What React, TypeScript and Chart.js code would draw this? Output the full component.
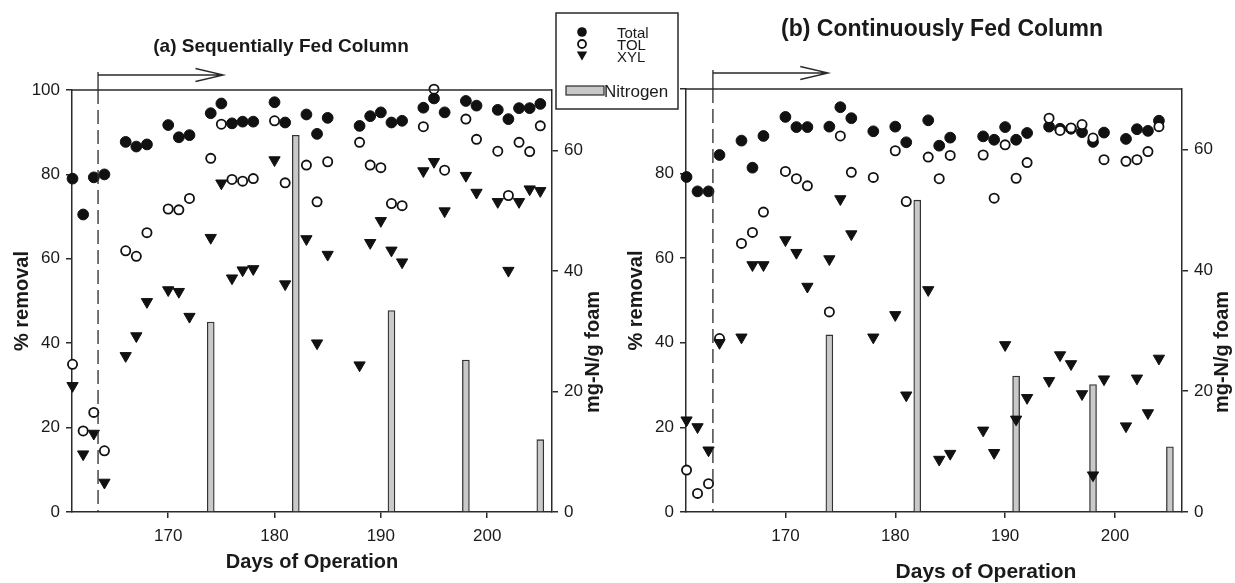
import React, { useEffect, useRef } from 'react';
import { Chart, registerables } from 'chart.js';

Chart.register(...registerables);

const W = 1235;
const H = 583;
const FONT = "'Liberation Sans', Arial, Helvetica, sans-serif";
const TEXT = '#1a1a1a';
const AXIS = '#2a2a2a';

// ---------- shared axis values ----------
const xTicks = [170, 180, 190, 200];
const yTicks = [0, 20, 40, 60, 80, 100];
const y2Ticks = [0, 20, 40, 60];
const X_MIN = 160.95;
const X_MAX = 206.1;
const DASH_DAY = 163.4;

// ---------- (a) Sequentially Fed Column ----------
const seqDays = [161, 162, 163, 164, 166, 167, 168, 170, 171, 172, 174, 175, 176, 177, 178, 180, 181, 183, 184, 185, 188, 189, 190, 191, 192, 194, 195, 196, 198, 199, 201, 202, 203, 204, 205];
const seqTotal = [79, 70.5, 79.3, 80, 87.7, 86.6, 87.1, 91.7, 88.8, 89.3, 94.5, 96.8, 92.1, 92.5, 92.5, 97.1, 92.3, 94.2, 89.6, 93.4, 91.5, 93.8, 94.7, 92.3, 92.7, 95.8, 98.0, 94.7, 97.4, 96.3, 95.3, 93.1, 95.7, 95.7, 96.7];
const seqTOL = [35.0, 19.2, 23.6, 14.5, 61.9, 60.6, 66.2, 71.8, 71.6, 74.3, 83.8, 91.9, 78.8, 78.4, 79.0, 92.7, 78.0, 82.2, 73.5, 83.0, 87.6, 82.2, 81.6, 73.1, 72.6, 91.3, 100.2, 81.0, 93.1, 88.3, 85.5, 75.0, 87.6, 85.4, 91.5];
const seqXYL = [29.9, 13.7, 18.6, 7.0, 37.0, 41.7, 49.8, 52.6, 52.2, 46.3, 65.0, 77.9, 55.4, 57.3, 57.6, 83.4, 54.0, 64.7, 40.0, 61.0, 34.8, 63.8, 69.0, 62.0, 59.2, 80.8, 83.0, 71.3, 79.7, 75.7, 73.5, 57.2, 73.5, 76.5, 76.1];
const seqNDays = [174, 182, 191, 198, 205];
const seqN = [31.5, 62.5, 33.4, 25.2, 12.0];

// ---------- (b) Continuously Fed Column ----------
const conDays = [161, 162, 163, 164, 166, 167, 168, 170, 171, 172, 174, 175, 176, 178, 180, 181, 183, 184, 185, 188, 189, 190, 191, 192, 194, 195, 196, 197, 198, 199, 201, 202, 203, 204];
const conTotal = [79.2, 75.8, 75.8, 84.4, 87.8, 81.4, 88.9, 93.4, 91.0, 91.0, 91.1, 95.7, 93.1, 90.0, 91.1, 87.4, 92.6, 86.6, 88.5, 88.8, 88.0, 91.0, 88.0, 89.6, 91.1, 90.6, 90.6, 89.8, 87.5, 89.7, 88.2, 90.5, 90.1, 92.5];
const conTOL = [9.9, 4.4, 6.7, 41.0, 63.5, 66.1, 70.9, 80.5, 78.8, 77.1, 47.3, 88.9, 80.3, 79.1, 85.4, 73.4, 83.9, 78.8, 84.3, 84.4, 74.2, 86.8, 78.9, 82.6, 93.1, 90.2, 90.8, 91.6, 88.4, 83.3, 82.9, 83.3, 85.2, 91.1];
const conXYL = [21.7, 20.1, 14.6, 40.0, 41.3, 58.4, 58.4, 64.3, 61.3, 53.3, 59.8, 74.0, 65.7, 41.3, 46.6, 27.6, 52.5, 12.4, 13.8, 19.3, 14.0, 39.5, 21.9, 27.0, 31.0, 37.1, 35.0, 27.9, 8.7, 31.4, 20.3, 31.6, 23.4, 36.3];
const conNDays = [174, 182, 191, 198, 205];
const conN = [29.3, 51.6, 22.5, 21.1, 10.8];

const legendLabels = ['Total', 'TOL', 'XYL', 'Nitrogen'];

type PanelCfg = {
  title: string;
  titleX: number;
  titleY: number;
  titleSize: number;
  days: number[];
  total: number[];
  tol: number[];
  xyl: number[];
  nDays: number[];
  n: number[];
  pad: { left: number; right: number; top: number; bottom: number };
  xHeight: number;
  xTitleCustom: null | { x: number; y: number; size: number };
  hideTop: boolean;
  arrowEnd: number;
  arrowRise: number;
  y2TitleX: number;
  legend: boolean;
};

const leftCfg: PanelCfg = {
  title: '(a) Sequentially Fed Column',
  titleX: 281, titleY: 47, titleSize: 19,
  days: seqDays, total: seqTotal, tol: seqTOL, xyl: seqXYL, nDays: seqNDays, n: seqN,
  pad: { left: 0, right: W - 552 - 40, top: 90, bottom: 9 },
  xHeight: 583 - 512 - 9,
  xTitleCustom: null,
  hideTop: false,
  arrowEnd: 175.2,
  arrowRise: 15,
  y2TitleX: 593,
  legend: false,
};

const rightCfg: PanelCfg = {
  title: '(b) Continuously Fed Column',
  titleX: 942, titleY: 30, titleSize: 23,
  days: conDays, total: conTotal, tol: conTOL, xyl: conXYL, nDays: conNDays, n: conN,
  pad: { left: 686 - 72, right: W - 1182 - 40, top: 89, bottom: 0 },
  xHeight: 583 - 512,
  xTitleCustom: { x: 986, y: 572, size: 21 },
  hideTop: true,
  arrowEnd: 173.9,
  arrowRise: 16,
  y2TitleX: 1222,
  legend: true,
};

function drawDownTriangle(ctx: CanvasRenderingContext2D, x: number, y: number, r: number) {
  ctx.beginPath();
  ctx.moveTo(x - r * 0.866, y - r * 0.5);
  ctx.lineTo(x + r * 0.866, y - r * 0.5);
  ctx.lineTo(x, y + r);
  ctx.closePath();
  ctx.fill();
}

function makeDecor(cfg: PanelCfg) {
  return {
    id: 'panelDecor',
    afterDraw(chart: any) {
      const { ctx, chartArea: a, scales } = chart;
      ctx.save();
      ctx.strokeStyle = AXIS;
      ctx.lineWidth = 1.5;
      // top frame line
      ctx.beginPath();
      ctx.moveTo(a.left, a.top);
      ctx.lineTo(a.right, a.top);
      ctx.stroke();
      // dashed start line
      const xd = scales.x.getPixelForValue(DASH_DAY);
      ctx.lineWidth = 1.3;
      ctx.setLineDash([14, 6]);
      ctx.beginPath();
      ctx.moveTo(xd, a.top);
      ctx.lineTo(xd, a.bottom);
      ctx.stroke();
      ctx.setLineDash([]);
      // arrow
      const xe = scales.x.getPixelForValue(cfg.arrowEnd);
      const ya = a.top - cfg.arrowRise;
      ctx.lineWidth = 1.3;
      ctx.beginPath();
      ctx.moveTo(xd, a.top);
      ctx.lineTo(xd, ya - 3);
      ctx.moveTo(xd, ya);
      ctx.lineTo(xe, ya);
      ctx.moveTo(xe - 28, ya - 6.5);
      ctx.lineTo(xe, ya);
      ctx.lineTo(xe - 28, ya + 6.5);
      ctx.stroke();
      // panel title
      ctx.fillStyle = TEXT;
      ctx.textAlign = 'center';
      ctx.textBaseline = 'middle';
      ctx.font = `bold ${cfg.titleSize}px ${FONT}`;
      ctx.fillText(cfg.title, cfg.titleX, cfg.titleY);
      // custom x title (off-centre in panel b)
      if (cfg.xTitleCustom) {
        ctx.font = `bold ${cfg.xTitleCustom.size}px ${FONT}`;
        ctx.fillText('Days of Operation', cfg.xTitleCustom.x, cfg.xTitleCustom.y);
      }
      // right axis title (reads bottom to top)
      ctx.save();
      ctx.translate(cfg.y2TitleX, 352);
      ctx.rotate(-Math.PI / 2);
      ctx.font = `bold 20px ${FONT}`;
      ctx.fillText('mg-N/g foam', 0, 0);
      ctx.restore();

      if (cfg.legend) {
        const bx = 556, by = 13, bw = 122, bh = 96;
        ctx.fillStyle = '#ffffff';
        ctx.fillRect(bx, by, bw, bh);
        ctx.strokeStyle = AXIS;
        ctx.lineWidth = 1.5;
        ctx.strokeRect(bx, by, bw, bh);
        const sx = 582;
        const rows = [32, 44, 56];
        ctx.fillStyle = '#111';
        ctx.beginPath();
        ctx.arc(sx, rows[0], 4.8, 0, Math.PI * 2);
        ctx.fill();
        ctx.fillStyle = '#fff';
        ctx.strokeStyle = '#111';
        ctx.lineWidth = 1.8;
        ctx.beginPath();
        ctx.arc(sx, rows[1], 4, 0, Math.PI * 2);
        ctx.fill();
        ctx.stroke();
        ctx.fillStyle = '#111';
        drawDownTriangle(ctx, sx, rows[2] - 1.5, 6);
        // nitrogen swatch
        ctx.fillStyle = '#c8c8c8';
        ctx.fillRect(566, 86, 38, 9);
        ctx.strokeStyle = AXIS;
        ctx.lineWidth = 1.2;
        ctx.strokeRect(566, 86, 38, 9);
        ctx.fillStyle = TEXT;
        ctx.textAlign = 'left';
        ctx.textBaseline = 'alphabetic';
        ctx.font = `15px ${FONT}`;
        ctx.fillText(legendLabels[0], 617, rows[0] + 5.5);
        ctx.fillText(legendLabels[1], 617, rows[1] + 5.5);
        ctx.fillText(legendLabels[2], 617, rows[2] + 5.5);
        ctx.font = `17px ${FONT}`;
        ctx.fillText(legendLabels[3], 604, 97);
      }
      ctx.restore();
    },
  };
}

function buildConfig(cfg: PanelCfg): any {
  const pts = (vals: number[]) => vals.map((v, i) => ({ x: cfg.days[i], y: v }));
  const tickFont = { size: 17, family: FONT };
  const gridOpts = {
    drawOnChartArea: false,
    drawTicks: true,
    tickLength: 6,
    color: AXIS,
    lineWidth: 1.5,
    offset: false,
  };
  const borderOpts = { display: true, color: AXIS, width: 1.5 };
  return {
    type: 'scatter',
    data: {
      datasets: [
        {
          type: 'scatter',
          label: 'XYL',
          data: pts(cfg.xyl),
          pointStyle: 'triangle',
          pointRotation: 180,
          pointRadius: 6.5,
          backgroundColor: '#111',
          borderColor: '#111',
          borderWidth: 1,
          order: 0,
          clip: false,
        },
        {
          type: 'scatter',
          label: 'TOL',
          data: pts(cfg.tol),
          pointStyle: 'circle',
          pointRadius: 4.6,
          backgroundColor: '#ffffff',
          borderColor: '#111',
          borderWidth: 1.8,
          order: 1,
          clip: false,
        },
        {
          type: 'scatter',
          label: 'Total',
          data: pts(cfg.total),
          pointStyle: 'circle',
          pointRadius: 5.4,
          backgroundColor: '#111',
          borderColor: '#111',
          borderWidth: 1,
          order: 2,
          clip: false,
        },
        {
          type: 'bar',
          label: 'Nitrogen',
          data: cfg.n.map((v, i) => ({ x: cfg.nDays[i], y: v })),
          yAxisID: 'y2',
          backgroundColor: '#c9c9c9',
          borderColor: '#333',
          borderWidth: 1.3,
          borderSkipped: 'bottom',
          barThickness: 7,
          order: 3,
        },
      ],
    },
    options: {
      responsive: false,
      animation: false,
      devicePixelRatio: 1,
      events: [],
      layout: { padding: cfg.pad },
      plugins: {
        legend: { display: false },
        tooltip: { enabled: false },
        title: { display: false },
      },
      scales: {
        x: {
          type: 'linear',
          position: 'bottom',
          min: X_MIN,
          max: X_MAX,
          offset: false,
          afterBuildTicks: (s: any) => {
            s.ticks = xTicks.map((v) => ({ value: v }));
          },
          afterFit: (s: any) => {
            s.height = cfg.xHeight;
          },
          grid: gridOpts,
          border: borderOpts,
          ticks: { font: tickFont, color: TEXT, padding: 8, maxRotation: 0, autoSkip: false },
          title: {
            display: cfg.xTitleCustom === null,
            text: 'Days of Operation',
            color: TEXT,
            font: { size: 20, weight: 'bold', family: FONT },
            padding: { top: 0, bottom: 0 },
          },
        },
        y: {
          type: 'linear',
          position: 'left',
          min: 0,
          max: 100,
          afterBuildTicks: (s: any) => {
            s.ticks = yTicks.map((v) => ({ value: v }));
          },
          afterFit: (s: any) => {
            s.width = 72;
          },
          grid: gridOpts,
          border: borderOpts,
          ticks: {
            font: tickFont,
            color: TEXT,
            padding: 6,
            callback: (v: any) => (cfg.hideTop && v === 100 ? '' : String(v)),
          },
          title: {
            display: true,
            text: '% removal',
            color: TEXT,
            font: { size: 20, weight: 'bold', family: FONT },
            padding: { top: 10, bottom: 0 },
          },
        },
        y2: {
          type: 'linear',
          position: 'right',
          min: 0,
          max: 70,
          afterBuildTicks: (s: any) => {
            s.ticks = y2Ticks.map((v) => ({ value: v }));
          },
          afterFit: (s: any) => {
            s.width = 40;
          },
          grid: gridOpts,
          border: borderOpts,
          ticks: { font: tickFont, color: TEXT, padding: 6 },
        },
      },
    },
    plugins: [makeDecor(cfg)],
  };
}

function Panel({ cfg }: { cfg: PanelCfg }) {
  const ref = useRef<HTMLCanvasElement | null>(null);
  useEffect(() => {
    if (!ref.current) return;
    const chart = new Chart(ref.current, buildConfig(cfg));
    return () => chart.destroy();
  }, [cfg]);
  return (
    <canvas
      ref={ref}
      width={W}
      height={H}
      style={{ position: 'absolute', left: 0, top: 0, width: W, height: H }}
    />
  );
}

export default function App() {
  return (
    <div style={{ position: 'absolute', left: 0, top: 0, width: W, height: H, background: '#ffffff', overflow: 'hidden' }}>
      <Panel cfg={leftCfg} />
      <Panel cfg={rightCfg} />
    </div>
  );
}
